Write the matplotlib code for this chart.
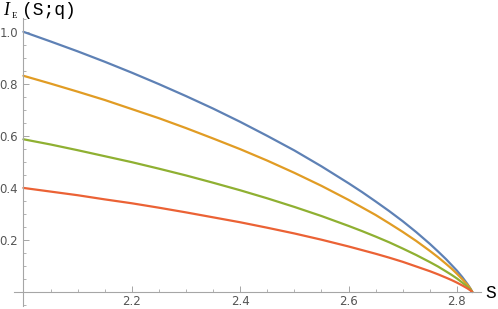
import matplotlib
matplotlib.use("Agg")
import matplotlib.pyplot as plt
from matplotlib.ticker import MultipleLocator, FixedLocator

# CHSH value S (x) and the curves I_E(S;q)
s_vals = [2.0, 2.05, 2.1, 2.15, 2.2, 2.25, 2.3, 2.35, 2.4, 2.45, 2.5, 2.55, 2.6, 2.625,
          2.65, 2.675, 2.7, 2.725, 2.75, 2.765, 2.78, 2.79, 2.8, 2.81, 2.82, 2.825, 2.8284]
blue   = [1.000, 0.963, 0.925, 0.885, 0.843, 0.799, 0.753, 0.705, 0.654, 0.600, 0.544, 0.483, 0.418, 0.384,
          0.348, 0.311, 0.272, 0.230, 0.185, 0.156, 0.126, 0.104, 0.082, 0.057, 0.029, 0.013, 0.0]
orange = [0.831, 0.801, 0.770, 0.738, 0.703, 0.668, 0.630, 0.590, 0.549, 0.505, 0.458, 0.408, 0.354, 0.325,
          0.296, 0.264, 0.231, 0.196, 0.158, 0.134, 0.108, 0.090, 0.070, 0.049, 0.026, 0.012, 0.0]
green  = [0.587, 0.567, 0.545, 0.522, 0.499, 0.474, 0.448, 0.420, 0.391, 0.360, 0.327, 0.292, 0.254, 0.234,
          0.213, 0.191, 0.167, 0.142, 0.115, 0.098, 0.079, 0.066, 0.052, 0.036, 0.019, 0.009, 0.0]
red    = [0.400, 0.386, 0.372, 0.356, 0.341, 0.324, 0.306, 0.287, 0.268, 0.247, 0.225, 0.201, 0.175, 0.161,
          0.147, 0.132, 0.116, 0.098, 0.080, 0.068, 0.055, 0.046, 0.036, 0.025, 0.013, 0.006, 0.0]

series = [blue, orange, green, red]
colors = ['#5E81B5', '#E19C24', '#8FB032', '#EB6235']

xticks = [2.2, 2.4, 2.6, 2.8]
yticks = [0.2, 0.4, 0.6, 0.8, 1.0]

fig = plt.figure(figsize=(4.98, 3.09), dpi=100)
ax = fig.add_axes([0.0285, 0.0087, 0.938, 0.933])

for ys, c in zip(series, colors):
    ax.plot(s_vals, ys, color=c, lw=1.6, solid_capstyle='round',
            solid_joinstyle='round', clip_on=False)

ax.set_xlim(1.983, 2.845)
ax.set_ylim(-0.055, 1.053)

axcol = '#a6a6a6'
for side in ['top', 'right']:
    ax.spines[side].set_visible(False)
ax.spines['left'].set_position(('data', 2.0))
ax.spines['bottom'].set_position(('data', 0.0))
for side in ['left', 'bottom']:
    ax.spines[side].set_color(axcol)
    ax.spines[side].set_linewidth(0.8)

ax.xaxis.set_major_locator(FixedLocator(xticks))
ax.yaxis.set_major_locator(FixedLocator(yticks))
ax.xaxis.set_minor_locator(MultipleLocator(0.05))
ax.yaxis.set_minor_locator(MultipleLocator(0.05))
ax.set_xticklabels([f'{v:.1f}' for v in xticks])
ax.set_yticklabels([f'{v:.1f}' for v in yticks])
ax.tick_params(which='major', direction='in', length=4, width=0.7, color=axcol,
               labelsize=8.5, labelcolor='#555555')
ax.tick_params(axis='y', which='major', pad=4)
ax.tick_params(axis='x', which='major', pad=2.5)
ax.tick_params(which='minor', direction='in', length=2.3, width=0.6, color=axcol)
ax.patch.set_visible(False)

# axis labels
fig.text(3 / 498, 1 - 15 / 309, 'I', family='Liberation Serif', style='italic',
         fontsize=13, va='baseline', ha='left')
fig.text(12 / 498, 1 - 18 / 309, 'E', family='Liberation Serif',
         fontsize=6.5, va='baseline', ha='left')
fig.text(22 / 498, 1 - 15 / 309, '(S;q)', family='Liberation Mono',
         fontsize=13, va='baseline', ha='left')
fig.text(485 / 498, 1 - 298 / 309, 'S', family='Liberation Mono',
         fontsize=13, va='baseline', ha='left')

fig.savefig('out.png', dpi=100)
